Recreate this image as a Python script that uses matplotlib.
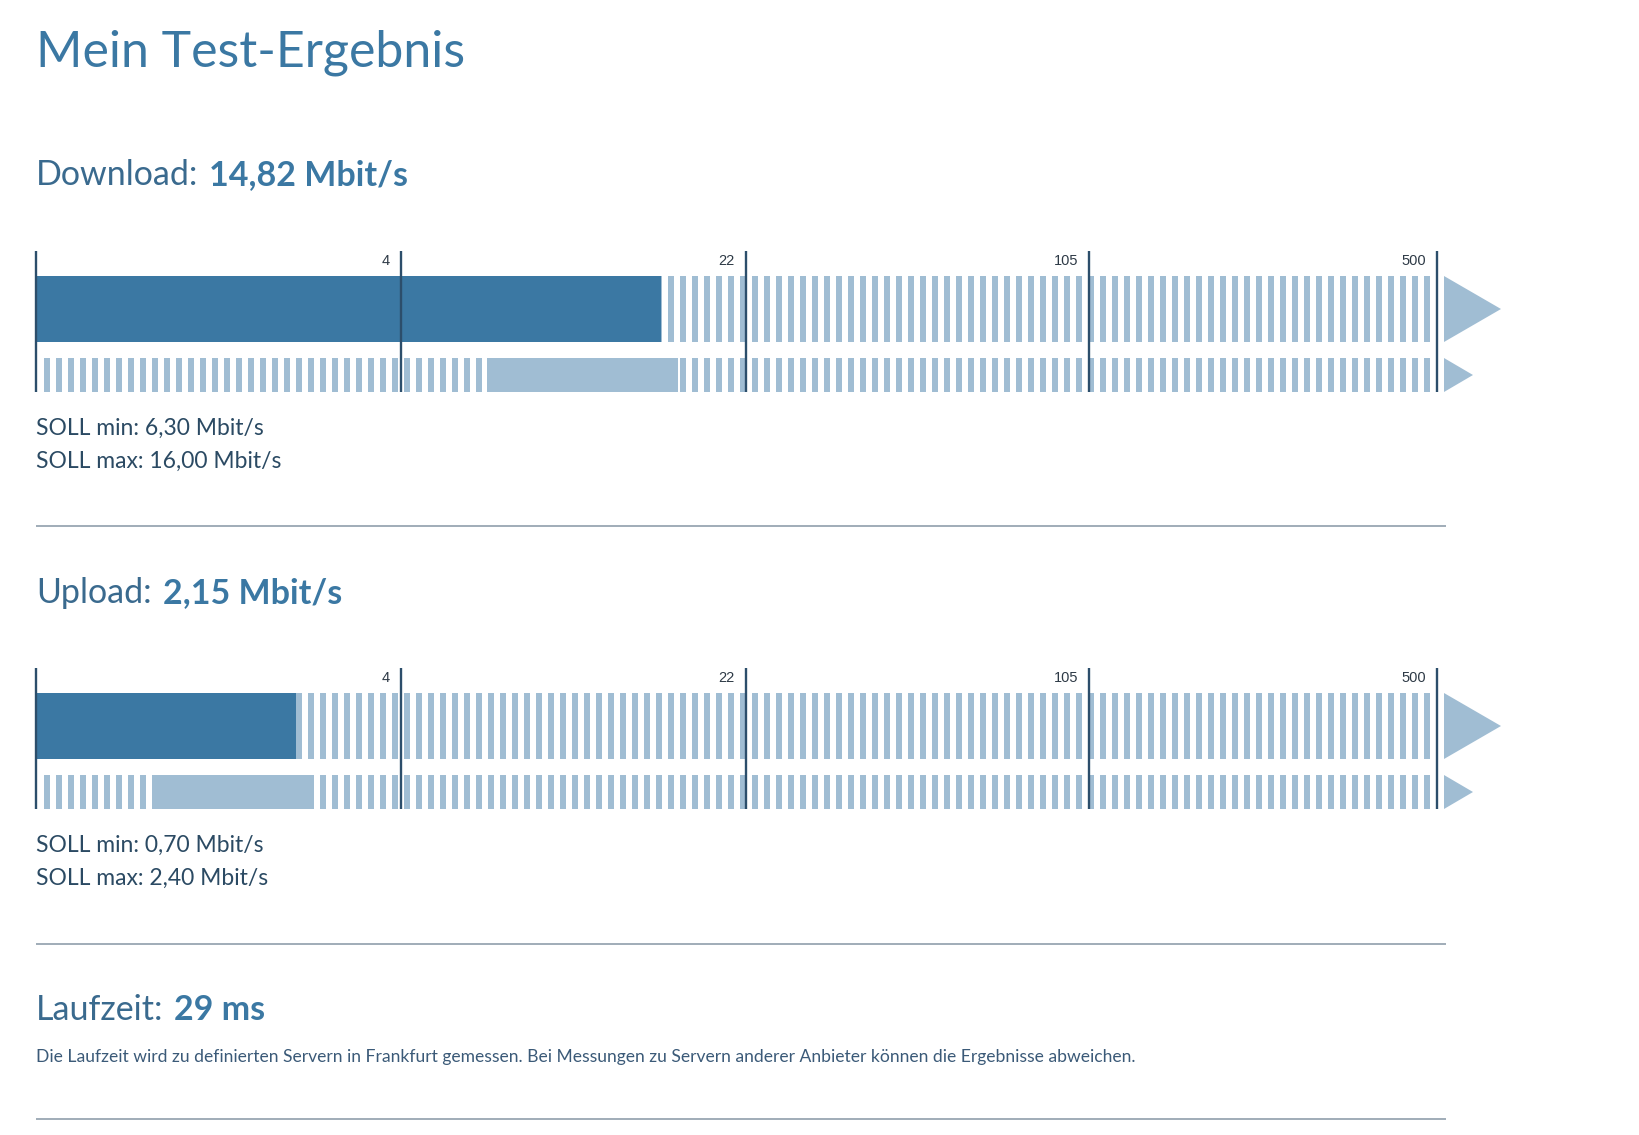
import numpy as np
import matplotlib
matplotlib.use('Agg')
import matplotlib.pyplot as plt
from matplotlib.patches import Polygon

plt.rcParams['font.family'] = ['Lato', 'DejaVu Sans']

# data
tick_values = [0, 4, 22, 105, 500]
tick_labels = ['', '4', '22', '105', '500']

download_value = 14.82
download_soll = [6.30, 16.00]
upload_value = 2.15
upload_soll = [0.70, 2.40]
latency_ms = 29

title = 'Mein Test-Ergebnis'
note = ('Die Laufzeit wird zu definierten Servern in Frankfurt gemessen. '
        'Bei Messungen zu Servern anderer Anbieter können die Ergebnisse abweichen.')

# colours
DARK = '#3b78a3'
LIGHT = '#a0bdd3'
TICK = '#2c4e6b'
HEAD = '#3a6a8e'
TEXT = '#2b4a63'
SEP = '#8696a4'

# layout in pixels
LEFT = 36
tick_px = [36, 401, 746, 1089, 1437]


def to_px(v):
    # log-like scale, linear between the ticks
    return np.interp(np.log1p(v), np.log1p(tick_values), tick_px)


def fmt(v):
    return f'{v:.2f}'.replace('.', ',')


fig = plt.figure(figsize=(16.4, 11.35), dpi=100)
ax = fig.add_axes([0, 0, 1, 1])
ax.set_xlim(0, 1640)
ax.set_ylim(1135, 0)
ax.axis('off')


def heading(y, label, value):
    t = ax.text(LEFT, y, label, fontsize=24.5, color=HEAD, va='baseline')
    fig.canvas.draw()
    bb = t.get_window_extent(fig.canvas.get_renderer())
    x1 = ax.transData.inverted().transform((bb.x1, bb.y0))[0]
    ax.text(x1 + 11, y, value, fontsize=24.5, color=DARK, fontweight='bold',
            va='baseline')


def gauge(top, value, soll):
    r1 = (top + 25, top + 91)
    r2 = (top + 107, top + 141)
    stripes = [(x, 5.6) for x in np.arange(44, 1425, 12)]
    ax.broken_barh(stripes, (r1[0], r1[1] - r1[0]), facecolors=LIGHT)
    ax.broken_barh(stripes, (r2[0], r2[1] - r2[0]), facecolors=LIGHT)
    # measured value
    ax.barh((r1[0] + r1[1]) / 2, to_px(value) - to_px(0), left=to_px(0),
            height=r1[1] - r1[0], color=DARK)
    # target range
    ax.barh((r2[0] + r2[1]) / 2, to_px(soll[1]) - to_px(soll[0]),
            left=to_px(soll[0]), height=r2[1] - r2[0], color=LIGHT)
    xs = to_px(np.array(tick_values))
    ax.vlines(xs, top, r2[1], color=TICK, lw=1.7)
    for x, lab in zip(xs, tick_labels):
        ax.text(x - 11, top + 10, lab, fontsize=10.5, color='#2e3a46',
                family='Liberation Sans', ha='right', va='center')
    x_end = xs[-1] + 7
    ax.add_patch(Polygon([(x_end, r1[0]), (x_end + 57, sum(r1) / 2), (x_end, r1[1])],
                         closed=True, color=LIGHT, lw=0))
    ax.add_patch(Polygon([(x_end, r2[0]), (x_end + 29, sum(r2) / 2), (x_end, r2[1])],
                         closed=True, color=LIGHT, lw=0))
    ax.text(LEFT, top + 184, 'SOLL min: ' + fmt(soll[0]) + ' Mbit/s',
            fontsize=16.5, color=TEXT, va='baseline')
    ax.text(LEFT, top + 217, 'SOLL max: ' + fmt(soll[1]) + ' Mbit/s',
            fontsize=16.5, color=TEXT, va='baseline')


ax.text(LEFT, 66, title, fontsize=36, color=DARK, va='baseline')

heading(185, 'Download:', fmt(download_value) + ' Mbit/s')
gauge(251, download_value, download_soll)
ax.hlines(526, LEFT, 1446, color=SEP, lw=1.1)

heading(603, 'Upload:', fmt(upload_value) + ' Mbit/s')
gauge(668, upload_value, upload_soll)
ax.hlines(944, LEFT, 1446, color=SEP, lw=1.1)

heading(1020, 'Laufzeit:', f'{latency_ms} ms')
ax.text(LEFT, 1062, note, fontsize=12.6, color='#3b5a78', va='baseline')
ax.hlines(1119, LEFT, 1446, color=SEP, lw=1.1)

fig.savefig('out.png', dpi=100, facecolor='white')
